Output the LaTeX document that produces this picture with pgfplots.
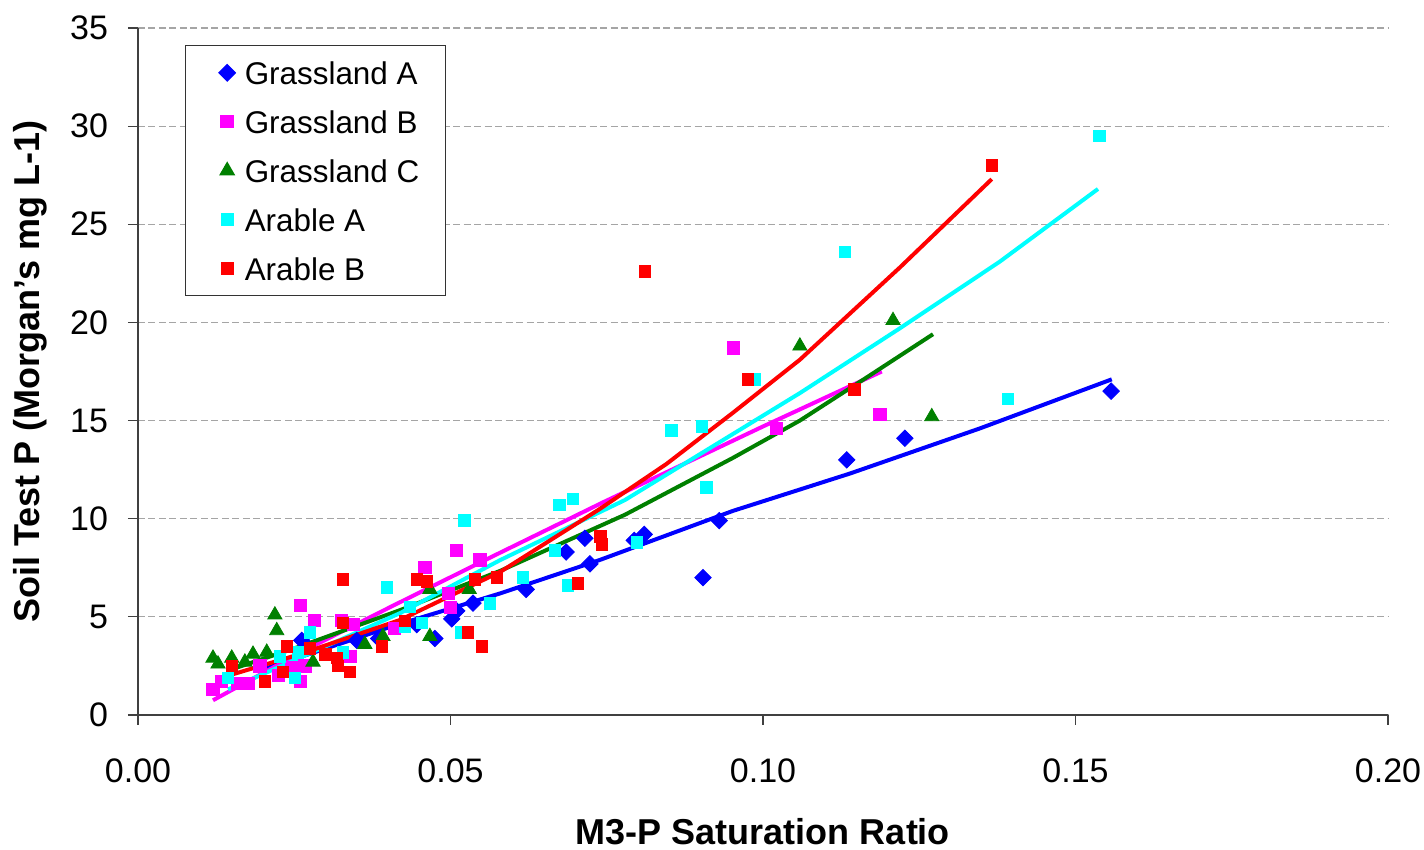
\documentclass[border=0pt]{standalone}
\usepackage{pgfplots}
\pgfplotsset{compat=1.18}
\usepackage{fontspec}
\setmainfont{Liberation Sans}

\definecolor{xlblue}{RGB}{0,0,255}
\definecolor{xlmag}{RGB}{255,0,255}
\definecolor{xlgreen}{RGB}{0,128,0}
\definecolor{xlcyan}{RGB}{0,255,255}
\definecolor{xlred}{RGB}{255,0,0}
\definecolor{gridgray}{RGB}{165,165,165}

% legend shows a single marker, no line
\pgfplotsset{dotlegend/.style={legend image code/.code={%
  \path (-9.5pt,0pt) (6.5pt,0pt);
  \draw[##1] plot coordinates {(0pt,0pt)};}}}

\begin{document}
\begin{tikzpicture}
\begin{axis}[
  scale only axis,
  width=625pt, height=343.5pt,
  xmin=0, xmax=0.2, ymin=0, ymax=35,
  xtick={0,0.05,0.1,0.15,0.2},
  ytick={0,5,...,35},
  xticklabel style={/pgf/number format/fixed, /pgf/number format/precision=2,
    /pgf/number format/fixed zerofill, yshift=-13.5pt},
  yticklabel style={xshift=-6.5pt},
  /pgf/number format/assume math mode=true,
  scaled x ticks=false,
  axis x line*=bottom, axis y line*=left,
  axis line style={black!75, line width=0.75pt},
  tick style={black!75, line width=0.6pt},
  tick align=outside,
  major tick length=5pt,
  ymajorgrids,
  grid style={gridgray, line width=0.6pt, dash pattern=on 3.5pt off 1.75pt},
  tick label style={font=\fontsize{17}{20}\selectfont},
  xlabel={M3-P Saturation Ratio},
  ylabel={Soil Test P (Morgan's mg L-1)},
  label style={font=\fontsize{18}{21}\selectfont\bfseries},
  xlabel style={at={(axis description cs:0.5,-0.1703)}, anchor=center},
  ylabel style={at={(axis description cs:-0.0864,0.5)}, anchor=center},
  legend style={at={(0.0376,0.975)}, anchor=north west,
    draw=black!80, line width=0.6pt,
    font=\fontsize{15.7}{18}\selectfont,
    inner xsep=11pt, inner ysep=4pt,
    row sep=5.5pt,
    nodes={text height=13.5pt, text depth=1.5pt, inner sep=2pt}},
  legend cell align=left,
]
% fitted curves
\addplot[xlblue, line width=2pt, forget plot] coordinates {
  (0.0198,2.3) (0.0405,4.5) (0.058,6.2) (0.0739,7.9) (0.0952,10.4)
  (0.1139,12.3) (0.1347,14.6) (0.1558,17.1)};
\addplot[xlmag, line width=2pt, forget plot] coordinates {
  (0.012,0.75) (0.0267,3.3) (0.041,5.6) (0.0575,8.2) (0.0745,10.85)
  (0.1,14.7) (0.119,17.5)};
\addplot[xlgreen, line width=2pt, forget plot] coordinates {
  (0.0147,2.3) (0.0251,3.4) (0.042,5.35) (0.058,7.35) (0.0779,10.2)
  (0.0952,13.1) (0.1059,15.0) (0.1166,17.2) (0.1272,19.4)};
\addplot[xlcyan, line width=2pt, forget plot] coordinates {
  (0.0144,1.3) (0.0251,2.8) (0.042,5.2) (0.058,7.9) (0.0779,10.95)
  (0.1059,16.4) (0.1219,19.7) (0.1379,23.1) (0.1536,26.8)};
\addplot[xlred, line width=2pt, forget plot] coordinates {
  (0.0144,2.0) (0.0259,3.1) (0.042,4.85) (0.058,7.3) (0.0739,10.5)
  (0.0846,12.8) (0.0952,15.4) (0.1059,18.1) (0.1219,22.8) (0.1366,27.3)};

% observations
\addplot[only marks, mark=square*, mark size=2.9pt, color=xlblue,
  mark options={rotate=45}, dotlegend]
  coordinates {
  (0.0262,3.8) (0.035,3.8) (0.0385,3.9) (0.0446,4.6) (0.0475,3.9)
  (0.0502,4.9) (0.051,5.3) (0.0536,5.7) (0.0621,6.4) (0.0685,8.3)
  (0.0715,9.0) (0.0723,7.7) (0.0794,8.9) (0.081,9.2) (0.0904,7.0)
  (0.093,9.9) (0.1134,13.0) (0.1227,14.1) (0.1557,16.5)};
\addlegendentry{Grassland A}
\addplot[only marks, mark=square*, mark size=3.05pt, color=xlmag, dotlegend]
  coordinates {
  (0.0120,1.3) (0.0134,1.7) (0.0160,1.6) (0.0176,1.6) (0.0195,2.5)
  (0.0225,2.0) (0.0245,2.4) (0.0260,1.7) (0.0260,5.6) (0.0267,2.5)
  (0.0282,4.8) (0.0326,4.8) (0.0339,3.0) (0.0345,4.6) (0.0410,4.4)
  (0.0459,7.5) (0.0496,6.2) (0.0500,5.5) (0.0509,8.4) (0.0547,7.9)
  (0.0952,18.7) (0.1022,14.6) (0.1187,15.3)};
\addlegendentry{Grassland B}
\addplot[only marks, mark=triangle*, mark size=4.1pt, color=xlgreen, dotlegend]
  coordinates {
  (0.0120,2.9) (0.0128,2.6) (0.0150,2.9) (0.0171,2.7) (0.0184,3.1)
  (0.0206,3.2) (0.0219,5.1) (0.0222,4.3) (0.0280,2.7) (0.0363,3.6)
  (0.0392,4.0) (0.0467,6.4) (0.0467,4.0) (0.0530,6.4) (0.1059,18.8)
  (0.1208,20.1) (0.1270,15.2)};
\addlegendentry{Grassland C}
\addplot[only marks, mark=square*, mark size=2.9pt, color=xlcyan, dotlegend]
  coordinates {
  (0.0144,1.9) (0.0227,3.0) (0.0251,1.9) (0.0256,3.2) (0.0275,4.2)
  (0.0328,3.2) (0.0398,6.5) (0.0427,4.5) (0.0435,5.5) (0.0454,4.7)
  (0.0517,4.2) (0.0522,9.9) (0.0563,5.7) (0.0616,7.0) (0.0667,8.4)
  (0.0674,10.7) (0.0688,6.6) (0.0696,11.0) (0.0798,8.8) (0.0853,14.5)
  (0.0902,14.7) (0.0909,11.6) (0.0986,17.1) (0.1131,23.6) (0.1392,16.1)
  (0.1538,29.5)};
\addlegendentry{Arable A}
\addplot[only marks, mark=square*, mark size=2.9pt, color=xlred, dotlegend]
  coordinates {
  (0.0150,2.5) (0.0203,1.7) (0.0232,2.2) (0.0238,3.5) (0.0275,3.4)
  (0.0300,3.1) (0.0318,2.9) (0.0320,2.5) (0.0328,6.9) (0.0328,4.7)
  (0.0339,2.2) (0.0390,3.5) (0.0427,4.8) (0.0446,6.9) (0.0462,6.8)
  (0.0528,4.2) (0.0539,6.9) (0.0550,3.5) (0.0574,7.0) (0.0704,6.7)
  (0.0740,9.1) (0.0742,8.7) (0.0811,22.6) (0.0976,17.1) (0.1146,16.6)
  (0.1366,28.0)};
\addlegendentry{Arable B}
\end{axis}
\pgfresetboundingbox
\path ([shift={(-69pt,-67.5pt)}]current axis.south west) rectangle
      ([shift={(18pt,14pt)}]current axis.north east);
\end{tikzpicture}
\end{document}
